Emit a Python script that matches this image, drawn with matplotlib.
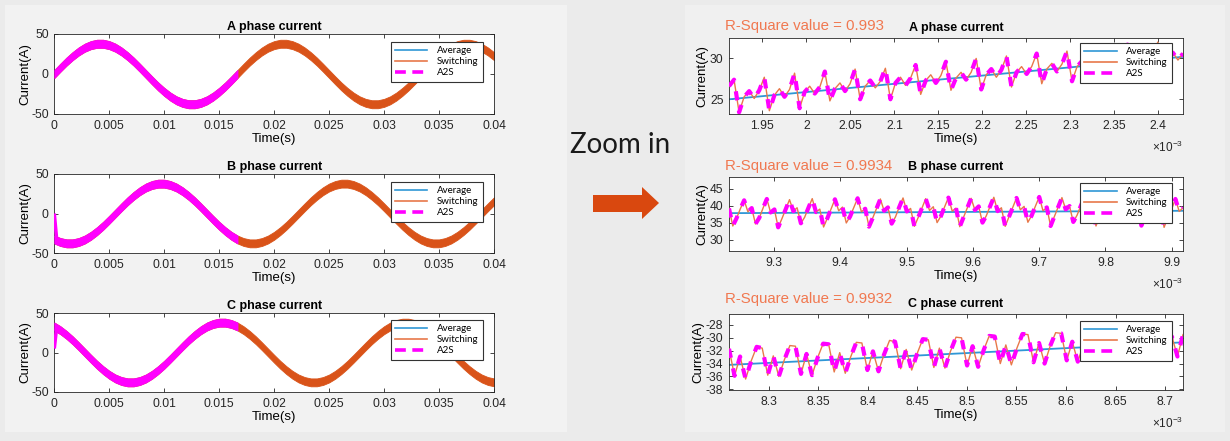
import numpy as np
import matplotlib
matplotlib.use('Agg')
import matplotlib.pyplot as plt
from matplotlib.lines import Line2D
from matplotlib.patches import Rectangle, Polygon
import matplotlib.transforms as mtransforms

plt.rcParams['font.family'] = ['Liberation Sans', 'DejaVu Sans']
plt.rcParams['mathtext.fontset'] = 'custom'
plt.rcParams['mathtext.rm'] = 'Liberation Sans'
plt.rcParams['mathtext.it'] = 'Liberation Sans:italic'

# ------------------------------------------------------------------ data
# full-window view (0 .. 0.04 s), 73 samples
full_time = np.linspace(0.0, 0.04, 73)
a2s_end = 0.0167
ripple_half = 5.0

phase_a_full = [0.0, 7.9, 15.5, 22.3, 28.2, 32.9, 36.1, 37.8, 37.8, 36.1, 32.9, 28.2, 22.3, 15.5, 7.9,
                0.0, -7.9, -15.5, -22.3, -28.2, -32.9, -36.1, -37.8, -37.8, -36.1, -32.9, -28.2, -22.3, -15.5, -7.9,
                0.0, 7.9, 15.5, 22.3, 28.2, 32.9, 36.1, 37.8, 37.8, 36.1, 32.9, 28.2, 22.3, 15.5, 7.9,
                0.0, -7.9, -15.5, -22.3, -28.2, -32.9, -36.1, -37.8, -37.8, -36.1, -32.9, -28.2, -22.3, -15.5, -7.9,
                0.0, 7.9, 15.5, 22.3, 28.2, 32.9, 36.1, 37.8, 37.8, 36.1, 32.9, 28.2, 22.3]
phase_b_full = [-32.9, -36.1, -37.8, -37.8, -36.1, -32.9, -28.2, -22.3, -15.5, -7.9,
                0.0, 7.9, 15.5, 22.3, 28.2, 32.9, 36.1, 37.8, 37.8, 36.1, 32.9, 28.2, 22.3, 15.5, 7.9,
                0.0, -7.9, -15.5, -22.3, -28.2, -32.9, -36.1, -37.8, -37.8, -36.1, -32.9, -28.2, -22.3, -15.5, -7.9,
                0.0, 7.9, 15.5, 22.3, 28.2, 32.9, 36.1, 37.8, 37.8, 36.1, 32.9, 28.2, 22.3, 15.5, 7.9,
                0.0, -7.9, -15.5, -22.3, -28.2, -32.9, -36.1, -37.8, -37.8, -36.1, -32.9, -28.2, -22.3, -15.5, -7.9,
                0.0, 7.9, 15.5]
phase_c_full = [32.9, 28.2, 22.3, 15.5, 7.9,
                0.0, -7.9, -15.5, -22.3, -28.2, -32.9, -36.1, -37.8, -37.8, -36.1, -32.9, -28.2, -22.3, -15.5, -7.9,
                0.0, 7.9, 15.5, 22.3, 28.2, 32.9, 36.1, 37.8, 37.8, 36.1, 32.9, 28.2, 22.3, 15.5, 7.9,
                0.0, -7.9, -15.5, -22.3, -28.2, -32.9, -36.1, -37.8, -37.8, -36.1, -32.9, -28.2, -22.3, -15.5, -7.9,
                0.0, 7.9, 15.5, 22.3, 28.2, 32.9, 36.1, 37.8, 37.8, 36.1, 32.9, 28.2, 22.3, 15.5, 7.9,
                0.0, -7.9, -15.5, -22.3, -28.2, -32.9, -36.1, -37.8]
start_time = [0.0, 0.0002]
phase_b_start = [0.0, -30.0]
phase_c_start = [5.0, 30.0]

# zoomed views (time in units of 1e-3 s)
zoom_a_time = np.linspace(1.912, 2.428, 91)
zoom_a_switch = [26.6,
                 27.4, 23.4, 25.3, 26.0, 25.1, 26.1,
                 27.7, 23.6, 25.5, 26.3, 25.3, 26.2,
                 28.2, 23.9, 25.9, 26.6, 25.7, 26.5,
                 28.4, 24.8, 26.3, 27.0, 26.0, 26.9,
                 28.7, 25.0, 26.6, 27.3, 26.4, 27.2,
                 28.8, 25.0, 27.0, 27.7, 26.7, 27.6,
                 29.2, 25.6, 27.3, 28.0, 27.0, 27.9,
                 29.6, 26.1, 27.6, 28.3, 27.4, 28.3,
                 30.0, 26.2, 28.0, 28.7, 27.7, 28.6,
                 30.3, 26.5, 28.3, 29.0, 28.1, 29.0,
                 30.6, 26.9, 28.7, 29.4, 28.4, 29.3,
                 30.9, 27.2, 29.0, 29.7, 28.8, 29.6,
                 31.2, 27.5, 29.4, 30.0, 29.1, 30.0,
                 31.7, 27.8, 29.7, 30.4, 29.5, 30.3,
                 32.0, 28.2, 30.0, 30.7, 29.8, 30.6]
zoom_a_avg_time = [1.912, 2.428]
zoom_a_avg = [25.0, 30.2]

zoom_b_time = np.linspace(9.232, 9.917, 121)
zoom_b_switch = [39.2, 34.0, 36.3, 39.1,
                 41.6, 38.2, 39.3, 34.6, 36.4, 39.3,
                 42.0, 38.0, 38.9, 33.6, 36.2, 39.0,
                 41.8, 38.4, 39.4, 34.8, 36.6, 39.4,
                 42.1, 38.1, 39.0, 33.7, 36.3, 39.1,
                 41.9, 38.5, 39.6, 34.9, 36.8, 39.5,
                 42.2, 38.2, 39.1, 33.8, 36.4, 39.2,
                 42.0, 38.5, 39.5, 34.7, 36.7, 39.6,
                 42.3, 38.3, 39.2, 33.9, 36.5, 39.3,
                 42.1, 38.6, 39.7, 35.0, 36.9, 39.7,
                 42.4, 38.4, 39.3, 33.8, 36.6, 39.4,
                 42.2, 38.7, 39.8, 35.0, 37.0, 39.8,
                 42.5, 38.4, 39.4, 33.9, 36.7, 39.5,
                 42.3, 38.8, 39.8, 35.1, 37.1, 39.9,
                 42.6, 38.5, 39.5, 34.0, 36.8, 39.6,
                 42.4, 38.9, 39.9, 35.2, 37.2, 40.0,
                 42.6, 38.6, 39.6, 34.0, 36.9, 39.7,
                 42.4, 38.9, 40.0, 35.2, 37.2, 40.0,
                 42.7, 38.6, 39.6, 34.1, 37.0, 39.8,
                 42.5, 39.0, 40.0, 33.6, 36.5, 39.0,
                 42.0, 38.3, 39.4]
zoom_b_avg_time = [9.232, 9.917]
zoom_b_avg = [37.8, 38.5]

zoom_c_time = np.linspace(8.26, 8.718, 83)
zoom_c_switch = [-31.7, -35.9, -32.9, -36.4, -33.6,
                 -31.4, -31.6, -35.8, -32.8, -36.0, -33.4,
                 -31.2, -31.3, -35.6, -32.5, -35.8, -33.1,
                 -30.9, -31.0, -35.3, -32.3, -35.5, -32.9,
                 -30.7, -30.8, -35.0, -32.1, -35.2, -32.6,
                 -30.4, -30.6, -34.8, -31.8, -35.0, -32.4,
                 -30.2, -30.3, -34.6, -31.6, -34.7, -32.1,
                 -29.9, -30.0, -34.3, -31.3, -34.5, -31.9,
                 -29.7, -29.8, -34.0, -31.1, -34.2, -31.6,
                 -29.4, -29.5, -33.8, -30.8, -34.0, -31.3,
                 -29.2, -29.3, -33.5, -30.6, -33.7, -31.1,
                 -28.9, -29.0, -33.2, -30.3, -33.5, -30.8,
                 -28.7, -28.8, -33.0, -30.0, -33.2, -30.6,
                 -28.4, -28.5, -32.7, -29.8, -32.9, -29.5]
zoom_c_avg_time = [8.26, 8.718]
zoom_c_avg = [-34.2, -30.7]

phase_titles = ['A phase current', 'B phase current', 'C phase current']
r_square = ['0.993', '0.9934', '0.9932']
full_xticks = [0, 0.005, 0.01, 0.015, 0.02, 0.025, 0.03, 0.035, 0.04]
full_yticks = [-50, 0, 50]
zoom_xticks = [[1.95, 2.0, 2.05, 2.1, 2.15, 2.2, 2.25, 2.3, 2.35, 2.4],
               [9.3, 9.4, 9.5, 9.6, 9.7, 9.8, 9.9],
               [8.3, 8.35, 8.4, 8.45, 8.5, 8.55, 8.6, 8.65, 8.7]]
zoom_yticks = [[25, 30], [30, 35, 40, 45], [-38, -36, -34, -32, -30, -28]]
zoom_xlims = [(1.912, 2.428), (9.232, 9.917), (8.26, 8.718)]
zoom_ylims = [(23.2, 32.5), (26.6, 48.5), (-38.1, -26.3)]

# ------------------------------------------------------------------ style
C_AVG = '#2F97D6'
C_SW = '#D95319'
C_SW_THIN = '#E8784A'
C_A2S = '#FF00FF'
C_RSQ = '#F07850'
W, H = 1230, 441

fig = plt.figure(figsize=(W / 100, H / 100), dpi=100, facecolor='#EBEBEB')


def fx(x):
    return x / W


def fy(y):
    return 1 - y / H


# grey panels (behind everything)
fig.patches.append(Rectangle((fx(5), fy(432)), fx(567 - 5), (432 - 5) / H,
                             transform=fig.transFigure, facecolor='#F2F2F2', edgecolor='none', zorder=-5))
fig.patches.append(Rectangle((fx(685), fy(432)), fx(1225 - 685), (432 - 5) / H,
                             transform=fig.transFigure, facecolor='#F0F0F0', edgecolor='none', zorder=-5))


def style_axes(ax):
    ax.set_facecolor('white')
    for s in ax.spines.values():
        s.set_color('#262626')
        s.set_linewidth(0.6)
    ax.tick_params(direction='in', length=3, width=0.6, top=True, right=True,
                   labelsize=8.7, pad=4, colors='#262626')


def fmt(v):
    return '%g' % v


legend_handles = [Line2D([], [], color=C_AVG, lw=1.2),
                  Line2D([], [], color=C_SW_THIN, lw=1.2),
                  Line2D([], [], color=C_A2S, lw=2.6, linestyle=(0, (3, 1.8)))]
legend_labels = ['Average', 'Switching', 'A2S']


def add_legend(ax, anchor):
    leg = ax.legend(legend_handles, legend_labels, loc='upper right', bbox_to_anchor=anchor,
                    borderaxespad=0, fancybox=False, framealpha=1, edgecolor='#333333',
                    prop={'family': 'Lato', 'size': 7}, handlelength=3.3, handletextpad=1.0,
                    labelspacing=0.2, borderpad=0.45)
    leg.get_frame().set_linewidth(0.8)
    leg.set_zorder(10)


full_series = [phase_a_full, phase_b_full, phase_c_full]
starts = [None, phase_b_start, phase_c_start]
left_boxes = [(34, 114), (174, 253), (313, 392)]
left_leg_top = [0.9, 0.9, 0.91]
full_time_arr = np.asarray(full_time)
mask = full_time_arr <= a2s_end + 1e-6

for i in range(3):
    top, bot = left_boxes[i]
    ax = fig.add_axes([fx(54.3), fy(bot), fx(494 - 54.3), (bot - top) / H])
    style_axes(ax)
    v = np.asarray(full_series[i])
    ax.plot(full_time_arr, v, color=C_AVG, lw=1.0, zorder=1)
    ax.fill_between(full_time_arr, v - ripple_half, v + ripple_half, color=C_SW, lw=0.6, zorder=2)
    ax.fill_between(full_time_arr[mask], v[mask] - ripple_half, v[mask] + ripple_half,
                    color=C_A2S, lw=0.6, zorder=3)
    if starts[i] is not None:
        ax.plot(start_time, starts[i], color=C_A2S, lw=2.5, zorder=3, solid_capstyle='butt')
    ax.set_xlim(0, 0.04)
    ax.set_ylim(-50, 50)
    ax.set_xticks(full_xticks)
    ax.set_xticklabels([fmt(t) for t in full_xticks])
    ax.set_yticks(full_yticks)
    ax.set_yticklabels([fmt(t) for t in full_yticks])
    ax.set_title(phase_titles[i], fontsize=9, fontweight='bold', pad=3)
    ax.set_xlabel('Time(s)', fontsize=9.5, labelpad=1)
    ax.set_ylabel('Current(A)', fontsize=9.5, labelpad=0)
    add_legend(ax, (0.975, left_leg_top[i]))

zoom_times = [zoom_a_time, zoom_b_time, zoom_c_time]
zoom_switch = [zoom_a_switch, zoom_b_switch, zoom_c_switch]
zoom_avg_t = [zoom_a_avg_time, zoom_b_avg_time, zoom_c_avg_time]
zoom_avg = [zoom_a_avg, zoom_b_avg, zoom_c_avg]
right_boxes = [(38, 114), (177, 251), (314, 390)]
right_leg_top = [0.934, 0.919, 0.908]
rsq_y = [26, 166, 299]

for i in range(3):
    top, bot = right_boxes[i]
    ax = fig.add_axes([fx(729), fy(bot), fx(1183 - 729), (bot - top) / H])
    style_axes(ax)
    ax.plot(zoom_avg_t[i], zoom_avg[i], color=C_AVG, lw=1.3, zorder=2)
    ax.plot(zoom_times[i], zoom_switch[i], color=C_SW_THIN, lw=1.0, zorder=3)
    ax.plot(zoom_times[i], zoom_switch[i], color=C_A2S, lw=3.0,
            linestyle=(0, (2.2, 2.6)), zorder=4)
    ax.set_xlim(*zoom_xlims[i])
    ax.set_ylim(*zoom_ylims[i])
    ax.set_xticks(zoom_xticks[i])
    ax.set_xticklabels([fmt(t) for t in zoom_xticks[i]])
    ax.set_yticks(zoom_yticks[i])
    ax.set_yticklabels([fmt(t) for t in zoom_yticks[i]])
    ax.set_title(phase_titles[i], fontsize=9, fontweight='bold', pad=5)
    ax.set_xlabel('Time(s)', fontsize=9.5, labelpad=1)
    ax.set_ylabel('Current(A)', fontsize=9.5, labelpad=1)
    add_legend(ax, (0.976, right_leg_top[i]))
    off = mtransforms.offset_copy(ax.transAxes, fig=fig, x=0, y=-(147 - 114), units='dots')
    ax.text(1.0, 0.0, r'$\times10^{-3}$', transform=off, ha='right', va='center',
            fontsize=8.5, color='#262626')
    fig.text(fx(725), fy(rsq_y[i]), 'R-Square value = ' + r_square[i], ha='left', va='center',
             fontsize=10.8, color=C_RSQ)

# middle annotation
fig.text(fx(620), fy(145), 'Zoom in', ha='center', va='center', fontsize=20,
         family='Lato', color='#1A1A1A')
arrow_px = [(593, 195), (642, 195), (642, 187), (659, 203), (642, 219), (642, 212), (593, 212)]
fig.patches.append(Polygon([(fx(x), fy(y)) for x, y in arrow_px], closed=True,
                           transform=fig.transFigure, facecolor='#D9480F', edgecolor='none', zorder=1))

fig.savefig('out.png', dpi=100, facecolor=fig.get_facecolor())
